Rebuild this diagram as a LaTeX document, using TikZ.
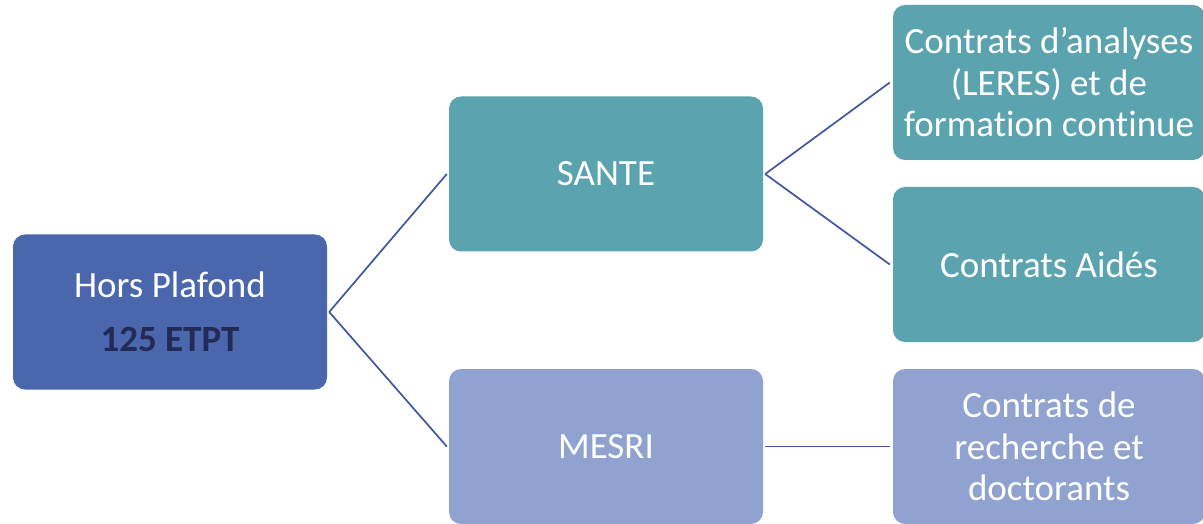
\documentclass[tikz,border=0pt]{standalone}
\usepackage{fontspec}
\setmainfont{Carlito}[Ligatures={NoCommon}]
\definecolor{darkblue}{HTML}{4A66AC}
\definecolor{teal}{HTML}{5BA3AE}
\definecolor{lightblue}{HTML}{90A3D0}
\definecolor{navy}{HTML}{222A55}
\definecolor{linecol}{HTML}{3F56A0}
\begin{document}
\begin{tikzpicture}[x=1pt,y=1pt,
  box/.style={rounded corners=12pt, minimum width=314pt, minimum height=155pt, inner sep=0pt,
    text=white, align=center, font=\fontsize{37}{41.5}\selectfont},
  conn/.style={draw=linecol, line width=1.7pt}]
\useasboundingbox (0,0) rectangle (1203,523);
\node[box, fill=darkblue] (hp) at (170,211) {Hors Plafond\\[12pt]\textcolor{navy}{\bfseries 125 ETPT}};
\node[box, fill=teal] (sante) at (606,349) {SANTE};
\node[box, fill=lightblue] (mesri) at (606,76.5) {MESRI};
\node[box, fill=teal, minimum width=312pt] (ana) at (1049,440.5) {Contrats d’analyses\\(LERES) et de\\formation continue};
\node[box, fill=teal, minimum width=312pt] (aides) at (1049,258.5) {Contrats Aidés};
\node[box, fill=lightblue, minimum width=312pt] (rech) at (1049,76.5) {Contrats de\\recherche et\\doctorants};
\draw[conn] ([xshift=2pt]hp.east) -- ([xshift=-2pt]sante.west);
\draw[conn] ([xshift=2pt]hp.east) -- ([xshift=-2pt]mesri.west);
\draw[conn] ([xshift=2pt]sante.east) -- ([xshift=-3pt]ana.west);
\draw[conn] ([xshift=2pt]sante.east) -- ([xshift=-3pt]aides.west);
\draw[conn] ([xshift=2pt]mesri.east) -- ([xshift=-3pt]rech.west);
\end{tikzpicture}
\end{document}
